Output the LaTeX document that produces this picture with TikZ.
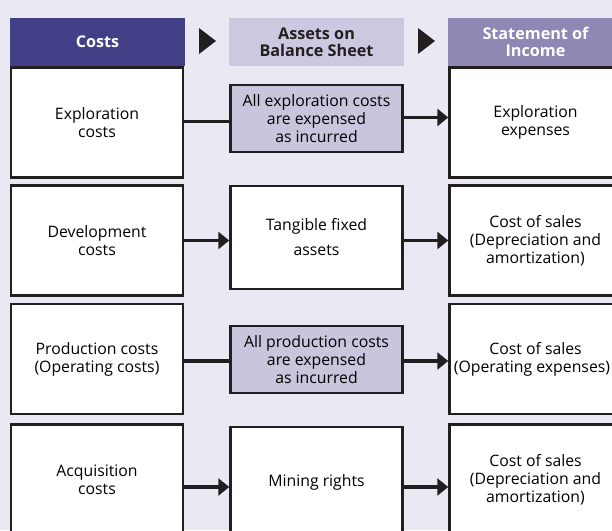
\documentclass[tikz,border=0pt]{standalone}
\usepackage{fontspec}
\setmainfont{Open Sans}
\usetikzlibrary{arrows.meta}
\definecolor{bg}{HTML}{EAE8F2}
\definecolor{hdrA}{HTML}{433F87}
\definecolor{hdrB}{HTML}{CBC8DF}
\definecolor{hdrC}{HTML}{8F88B5}
\definecolor{shade}{HTML}{C9C5DD}
\definecolor{ink}{HTML}{231F20}
\begin{document}
\begin{tikzpicture}[x=1pt,y=-1pt,
  hdr/.style={minimum width=175pt,minimum height=48pt,inner sep=0pt,align=center,
    font=\bfseries\fontsize{16.2}{17}\selectfont},
  box/.style={draw=ink,line width=2.5pt,fill=white,minimum width=172pt,minimum height=110pt,
    inner sep=0pt,align=center,font=\fontsize{15.8}{18}\selectfont},
  midbox/.style={box,minimum height=103pt},
  shadebox/.style={box,fill=shade,minimum height=67pt},
  conn/.style={draw=ink,line width=3.5pt},
  arr/.style={conn,-{Triangle[length=11pt,width=17pt]}},
  tri/.style={fill=ink}]
\useasboundingbox (0,0) rectangle (612,530);
\clip (0,0) rectangle (612,530);
\fill[bg] (0,0) rectangle (612,530);
% headers
\node[hdr,fill=hdrA,text=white] (h1) at (97.5,42) {Costs};
\node[hdr,fill=hdrB,text=ink] (h2) at (316.5,42) {Assets on\\Balance Sheet};
\node[hdr,fill=hdrC,text=white] (h3) at (535.5,42) {Statement of\\Income};
\fill[tri] (199,28) -- (216,41) -- (199,54) -- cycle;
\fill[tri] (418,28) -- (435,41) -- (418,54) -- cycle;
% row 1
\node[box] (L1) at (97,122.5) {Exploration\\costs};
\node[shadebox] (M1) at (316.5,118.5) {All exploration costs\\are expensed\\as incurred};
\node[box] (R1) at (535.5,122.5) {Exploration\\expenses};
% row 2
\node[box] (L2) at (97,240.5) {Development\\costs};
\node[midbox] (M2) at (316.5,237.5) {Tangible fixed\\[7pt]assets};
\node[box] (R2) at (535.5,240.5) {Cost of sales\\(Depreciation and\\amortization)};
% row 3
\node[box] (L3) at (97,359) {Production costs\\(Operating costs)};
\node[shadebox] (M3) at (316.5,359.5) {All production costs\\are expensed\\as incurred};
\node[box] (R3) at (535.5,359) {Cost of sales\\(Operating expenses)\hspace*{7pt}};
% row 4
\node[box] (L4) at (97,479.5) {Acquisition\\costs};
\node[box] (M4) at (316.5,482) {Mining rights};
\node[box] (R4) at (535.5,479.5) {Cost of sales\\(Depreciation and\\amortization)};
% connectors
\coordinate (a1) at ([yshift=1pt]L1.east);
\coordinate (b1) at ([yshift=1pt]M1.east);
\draw[conn] (a1) -- (a1 -| M1.west);
\draw[arr] (b1) -- (b1 -| R1.west);
\coordinate (a2) at (L2.east);
\coordinate (b2) at (a2 -| M2.east);
\draw[arr] (a2) -- (a2 -| M2.west);
\draw[arr] (b2) -- (b2 -| R2.west);
\coordinate (a3) at ([yshift=-2pt]L3.east);
\coordinate (b3) at (a3 -| M3.east);
\draw[conn] (a3) -- (a3 -| M3.west);
\draw[arr] (b3) -- (b3 -| R3.west);
\coordinate (a4) at ([yshift=-7.5pt]L4.east);
\coordinate (b4) at (a4 -| M4.east);
\draw[arr] (a4) -- (a4 -| M4.west);
\draw[arr] (b4) -- (b4 -| R4.west);
\end{tikzpicture}
\end{document}
